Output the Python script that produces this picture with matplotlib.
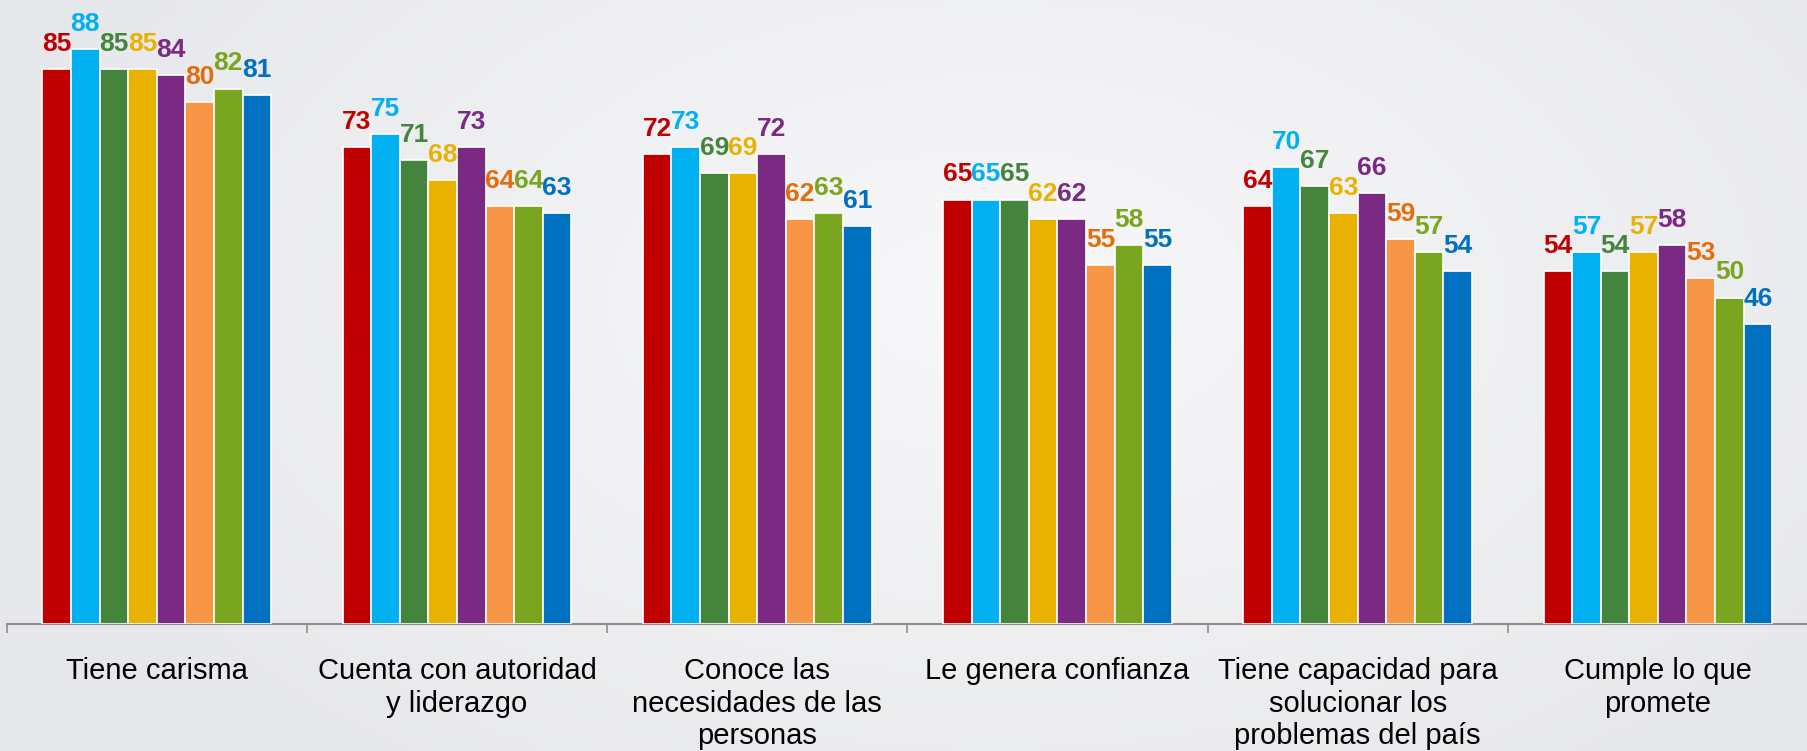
import matplotlib
matplotlib.use("Agg")
import matplotlib.pyplot as plt
import numpy as np
from matplotlib.colors import LinearSegmentedColormap

plt.rcParams["font.family"] = ["Liberation Sans", "DejaVu Sans"]

CATEGORIES = [
    "Tiene carisma",
    "Cuenta con autoridad\ny liderazgo",
    "Conoce las\nnecesidades de las\npersonas",
    "Le genera confianza",
    "Tiene capacidad para\nsolucionar los\nproblemas del país",
    "Cumple lo que\npromete",
]

# one list per series (8 series, one value per category)
S1 = [85, 73, 72, 65, 64, 54]
S2 = [88, 75, 73, 65, 70, 57]
S3 = [85, 71, 69, 65, 67, 54]
S4 = [85, 68, 69, 62, 63, 57]
S5 = [84, 73, 72, 62, 66, 58]
S6 = [80, 64, 62, 55, 59, 53]
S7 = [82, 64, 63, 58, 57, 50]
S8 = [81, 63, 61, 55, 54, 46]
SERIES = [S1, S2, S3, S4, S5, S6, S7, S8]

BAR_COLORS = ["#C00000", "#00B0F0", "#44843C", "#E9B200",
              "#7B2A84", "#F79646", "#7AA51F", "#0070C0"]
LABEL_COLORS = ["#C00000", "#00B0F0", "#44843C", "#E9B200",
                "#7B2A84", "#E46C0A", "#7AA51F", "#0070C0"]

W, H = 1808, 751
fig = plt.figure(figsize=(W / 100, H / 100), dpi=100)

# soft light-gray background gradient
bg = fig.add_axes([0, 0, 1, 1], zorder=-10)
gx, gy = np.meshgrid(np.linspace(0, 1, 400), np.linspace(0, 1, 200))
r = np.sqrt(((gx - 0.55) / 0.6) ** 2 + ((gy - 0.6) / 0.85) ** 2)
cmap = LinearSegmentedColormap.from_list("bg", ["#F8F8FA", "#E6E7EA"])
bg.imshow(np.clip(r, 0, 1), cmap=cmap, aspect="auto", extent=(0, 1, 0, 1),
          vmin=0, vmax=1, origin="lower")
bg.axis("off")

left_px, axis_px = 6.7, 624
group_px = 302
ax = fig.add_axes([left_px / W, 1 - axis_px / H, (W - left_px) / W, axis_px / H])
ax.set_facecolor("none")
ax.set_xlim(-0.5, -0.5 + (W - left_px) / group_px)
ax.set_ylim(0, axis_px / 6.53)

n = len(SERIES)
width = 0.762 / n
x = np.arange(len(CATEGORIES))
for i, vals in enumerate(SERIES):
    offset = width * (i - n / 2 + 0.5)
    bars = ax.bar(x + offset, vals, width, color=BAR_COLORS[i],
                  edgecolor="white", linewidth=1.2, zorder=3)
    for bar in bars:
        h = bar.get_height()
        ax.annotate(f"{h:.0f}", xy=(bar.get_x() + bar.get_width() / 2, h),
                    xytext=(0, 13), textcoords="offset points",
                    ha="center", va="baseline", fontsize=19,
                    fontweight="bold", color=LABEL_COLORS[i], zorder=4,
                    annotation_clip=False)

for i, cat in enumerate(CATEGORIES):
    ax.annotate(cat, xy=(i, 0), xytext=(0, -24), textcoords="offset points",
                ha="center", va="top", fontsize=21, color="black",
                linespacing=1.2)

for side in ["left", "right", "top"]:
    ax.spines[side].set_visible(False)
ax.spines["bottom"].set_color("#8E8E8E")
ax.spines["bottom"].set_linewidth(1.5)
ax.set_yticks([])
ax.set_xticks(np.arange(-0.5, len(CATEGORIES), 1.0))
ax.set_xticklabels([])
ax.tick_params(axis="x", direction="out", length=6.5, width=1.2,
               color="#8E8E8E")

fig.savefig("out.png", dpi=100)
